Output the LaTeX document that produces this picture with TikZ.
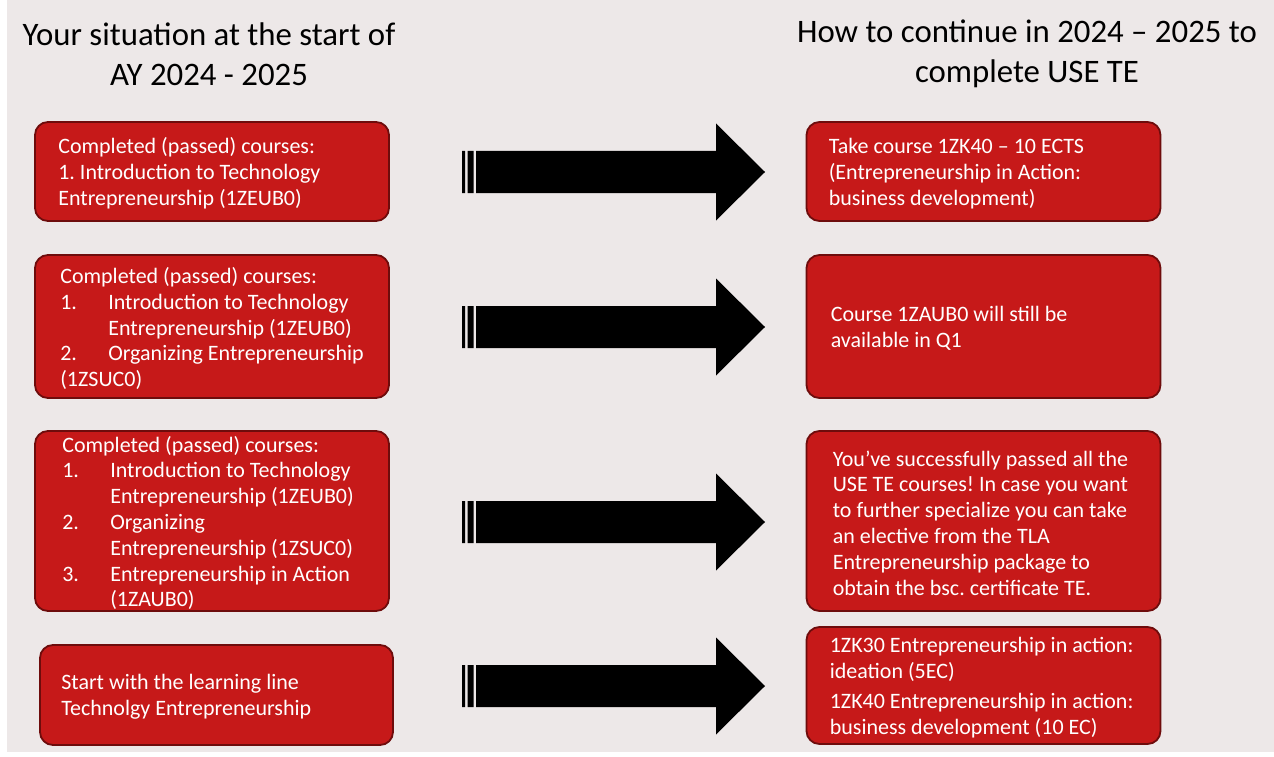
\documentclass[tikz,border=0pt]{standalone}
\usepackage{fontspec}
\setmainfont{Carlito}
\usetikzlibrary{positioning}
\definecolor{boxred}{RGB}{198,25,25}
\definecolor{boxline}{RGB}{110,12,12}
\definecolor{paper}{RGB}{237,232,232}
\frenchspacing

\begin{document}
\begin{tikzpicture}[x=1pt,y=-1pt]
 \tikzstyle{usebox} = [draw=boxline,line width=1.8pt,fill=boxred,rounded corners=13pt,minimum width=354pt,inner sep=0pt]
 \tikzstyle{boxtext} = [anchor=west,align=left,text=white,inner sep=0pt,yshift=-2pt,font=\fontsize{22}{25.8}\selectfont]
 \tikzstyle{heading} = [align=center,inner sep=0pt,font=\fontsize{32.8}{40}\selectfont]
 \newcommand{\num}[1]{\makebox[48pt][l]{#1}}
 \newcommand{\ind}{\hspace*{48pt}}
 \newcommand{\blockarrow}[2]{%
  \coordinate (#1) at (462,#2);
  \fill[shift={(#1)}] (0,-21) rectangle (3,21) (5.5,-21) rectangle (11.5,21)
   (14,-21) -- (254,-21) -- (254,-48.5) -- (303,0) -- (254,48.5) -- (254,21) -- (14,21) -- cycle;}

 \useasboundingbox (0,0) rectangle (1274,757);
 \fill[paper] (7,0) rectangle (1274,752);

% Headings
 \node[heading] (hleft) at (209,54) {Your situation at the start of\\AY 2024 - 2025};
 \node[heading] (hright) at (1027,54) {How to continue in 2024 \textendash{} 2025 to\\complete USE TE};

% Left column
 \node[usebox,minimum height=99pt] (l1) at (212,171.5) {};
 \node[usebox,minimum height=143pt] (l2) at (212,326.5) {};
 \node[usebox,minimum height=180pt] (l3) at (212,521) {};
 \node[usebox,minimum width=353pt,minimum height=100pt] (l4) at (216.5,695) {};

 \node[boxtext,right=24pt of l1.west] (l1text) {Completed (passed) courses:\\1. Introduction to Technology\\Entrepreneurship (1ZEUB0)};
 \node[boxtext,right=26pt of l2.west] (l2text) {Completed (passed) courses:\\
  \num{1.}Introduction to Technology\\\ind Entrepreneurship (1ZEUB0)\\
  \num{2.}Organizing Entrepreneurship\\(1ZSUC0)};
 \node[boxtext,right=28pt of l3.west] (l3text) {Completed (passed) courses:\\
  \num{1.}Introduction to Technology\\\ind Entrepreneurship (1ZEUB0)\\
  \num{2.}Organizing\\\ind Entrepreneurship (1ZSUC0)\\
  \num{3.}Entrepreneurship in Action\\\ind (1ZAUB0)};
 \node[boxtext,right=22pt of l4.west] (l4text) {Start with the learning line\\Technolgy Entrepreneurship};

% Right column
 \node[usebox,minimum height=99pt] (r1) at (983.5,171.5) {};
 \node[usebox,minimum height=143pt] (r2) at (983.5,326.5) {};
 \node[usebox,minimum height=180pt] (r3) at (983.5,521) {};
 \node[usebox,minimum height=117pt] (r4) at (983.5,685.5) {};

 \node[boxtext,right=23pt of r1.west] (r1text) {Take course 1ZK40 \textendash{} 10 ECTS\\(Entrepreneurship in Action:\\business development)};
 \node[boxtext,right=25pt of r2.west] (r2text) {Course 1ZAUB0 will still be\\available in Q1};
 \node[boxtext,right=27pt of r3.west] (r3text) {You’ve successfully passed all the\\USE TE courses! In case you want\\to further specialize you can take\\an elective from the TLA\\Entrepreneurship package to\\obtain the bsc. certificate TE.};
 \node[boxtext,right=24pt of r4.west] (r4text) {1ZK30 Entrepreneurship in action:\\ideation (5EC)\\[4pt]1ZK40 Entrepreneurship in action:\\business development (10 EC)};

% Arrows
 \blockarrow{a1}{172}
 \blockarrow{a2}{327}
 \blockarrow{a3}{522}
 \blockarrow{a4}{686}

\end{tikzpicture}
\end{document}
